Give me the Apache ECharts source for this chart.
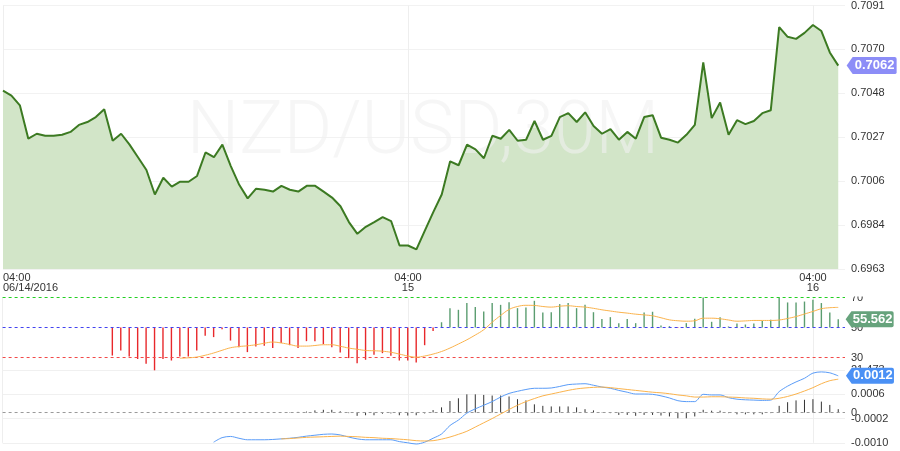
<!DOCTYPE html>
<html><head><meta charset="utf-8">
<script src="https://cdn.jsdelivr.net/npm/echarts@6/dist/echarts.min.js"></script>
<style>html,body{margin:0;padding:0;background:#fff}#c{width:900px;height:451px}</style>
</head><body><div id="c"></div>
<script>
// 30-minute bars, index 0 = 04:00 06/14/2016
const tickIndex = [0, 48, 96];
const tickLabels = ['04:00\n06/14/2016', '04:00\n15', '04:00\n16'];

const price = [0.70496,0.70472,0.70425,0.70263,0.70287,0.70277,0.70277,0.70282,0.70296,0.70330,
0.70344,0.70368,0.70406,0.70253,0.70287,0.70234,0.70173,0.70111,0.69992,0.70073,
0.70030,0.70054,0.70054,0.70082,0.70196,0.70173,0.70234,0.70130,0.70039,0.69973,
0.70020,0.70015,0.70006,0.70034,0.70015,0.70006,0.70034,0.70034,0.70006,0.69977,
0.69935,0.69858,0.69801,0.69835,0.69858,0.69882,0.69863,0.69744,0.69744,0.69725,
0.69816,0.69906,0.69992,0.70153,0.70134,0.70234,0.70211,0.70168,0.70277,0.70263,
0.70306,0.70253,0.70258,0.70349,0.70258,0.70277,0.70368,0.70387,0.70344,0.70391,
0.70325,0.70287,0.70310,0.70258,0.70296,0.70263,0.70368,0.70377,0.70268,0.70258,
0.70244,0.70282,0.70330,0.70634,0.70363,0.70439,0.70282,0.70353,0.70334,0.70349,
0.70387,0.70401,0.70805,0.70758,0.70748,0.70777,0.70815,0.70786,0.70682,0.70618];

const rsi = [null,null,null,null,null,null,null,null,null,null,
null,null,null,31.3,34.7,30.7,29,25.8,21.473,29,
28,30.7,30.7,34.7,44.5,43.6,48.9,41.3,36.9,33.6,
37.3,37.8,36.3,39.6,38.2,36.3,40.9,40.9,38.9,36.9,
33.3,29.6,26.2,28.5,31.8,32.9,31.1,28,28,26.7,
38.2,47.6,53.5,62.9,61.8,66.3,63.6,60.7,66.3,65.1,
66.9,62.9,63.4,67.8,60,60.2,65.6,66.3,62.9,65.1,
60.2,55.6,56.9,52.9,55.6,52.9,60,60.5,51.3,50.9,
49.6,52.9,55.8,70,53.8,56.9,50.7,52.7,52,52.7,
54.4,55.1,70,66.7,66.7,67.3,68.5,66.3,60,55.562];

const rsiMa = [null,null,null,null,null,null,null,null,null,null,
null,null,null,null,null,null,null,null,null,null,
null,29.5,29.8,30.3,31.5,33,34.8,36.5,37.3,37.8,
38.5,39.5,40.3,39.7,38.7,37.6,37.6,38,38.5,38.5,
37.5,36.3,35.5,34.7,34.5,34.2,33.5,32.3,31,30.2,
31,32.3,34,36.3,39,41.8,45,48.5,53.5,58,
62,64,64.8,64.7,64,63.6,64.2,64.5,64,63.6,
62.8,61.8,61,60.2,59.6,58.9,58.4,57.8,56.5,55.1,
54.5,54.2,54.5,56.2,56.2,55.8,55,54.2,54.4,54.7,
54.7,54.7,55,56,57.3,59,60.7,62.5,63.2,63.4];

const rsiLevels = [70, 50, 30];
const macdLevels = [0];

const macd = [null,null,null,null,null,null,null,null,null,null,
null,null,null,null,null,null,null,null,null,null,
null,null,null,null,null,-0.00098,-0.00083,-0.00079,-0.00085,-0.0009,
-0.0009,-0.0009,-0.00089,-0.00087,-0.00085,-0.00082,-0.00078,-0.00075,-0.00072,-0.00071,
-0.00074,-0.00081,-0.00087,-0.0009,-0.0009,-0.0009,-0.0009,-0.00096,-0.001,-0.00104,
-0.00098,-0.00085,-0.00071,-0.00043,-0.00025,-0.00002,0.00012,0.00024,0.00036,0.00051,
0.00063,0.0007,0.00076,0.0008,0.0008,0.00081,0.00086,0.00092,0.00094,0.00095,
0.0009,0.00084,0.0008,0.00073,0.00067,0.00061,0.00061,0.0006,0.00055,0.00048,
0.00039,0.00036,0.00036,0.0006,0.00058,0.00058,0.00049,0.00044,0.00042,0.00041,
0.0004,0.00041,0.00069,0.00087,0.00101,0.00113,0.0013,0.00134,0.00131,0.00121];

const signal = [null,null,null,null,null,null,null,null,null,null,
null,null,null,null,null,null,null,null,null,null,
null,null,null,null,null,null,null,null,null,null,
null,null,null,-0.00087,-0.00086,-0.00084,-0.00082,-0.00081,-0.0008,-0.00079,
-0.00078,-0.00079,-0.0008,-0.00082,-0.00083,-0.00085,-0.00086,-0.00088,-0.0009,-0.00093,
-0.00094,-0.00093,-0.00088,-0.00081,-0.00072,-0.00062,-0.00048,-0.00034,-0.0002,-0.00005,
0.0001,0.00024,0.00036,0.00046,0.00055,0.00061,0.00067,0.00073,0.00078,0.00081,
0.00083,0.00084,0.00082,0.00079,0.00076,0.00073,0.0007,0.00067,0.00065,0.00062,
0.00058,0.00055,0.00051,0.00051,0.00052,0.00052,0.00051,0.0005,0.00048,0.00047,
0.00045,0.00044,0.00047,0.00053,0.00061,0.00071,0.00082,0.00095,0.00105,0.0011];

const hist = [null,null,null,null,null,null,null,null,null,null,
null,null,null,null,null,null,null,null,null,null,
null,null,null,null,null,null,null,null,null,null,
null,null,null,0,0.00001,0.00002,0.00003,0.00007,0.00009,0.00009,
0.00004,-0.00002,-0.00011,-0.00009,-0.00009,-0.00004,-0.00003,-0.00009,-0.0001,-0.00009,
-0.00003,0.00008,0.00017,0.00038,0.00047,0.0006,0.0006,0.00058,0.00056,0.00056,
0.00053,0.00044,0.0004,0.00027,0.00022,0.0002,0.0002,0.0002,0.00017,0.00011,
0.00007,0.00001,-0.00002,-0.00008,-0.00008,-0.00011,-0.00008,-0.00008,-0.0001,-0.00013,
-0.00019,-0.00019,-0.00013,0.00009,0.00006,0.00006,-0.00002,-0.00006,-0.00006,-0.00006,
-0.00006,-0.00002,0.00022,0.00034,0.0004,0.00042,0.00044,0.00036,0.00025,0.00011];

const X_MAX = 99.8;
const pairs = arr => arr.map((v, i) => [i, v]).filter(p => p[1] !== null);
const last = price.length - 1;
const FONT = 'Liberation Sans';
const TAG = 'path://M0,9L6,0H48Q50,0,50,2V16Q50,18,48,18H6Z';

function tag(x, y, text, color, w, h, off) {
  return {
    symbol: TAG, symbolSize: [w, h], symbolOffset: [off, 0], silent: true,
    itemStyle: {color: color},
    label: {show: true, position: 'inside', offset: [3, 0], color: '#fff', fontWeight: 'bold',
            fontSize: 13, fontFamily: FONT, formatter: () => text},
    data: [{coord: [x, y]}]
  };
}

function levelLine(gi, value, color) {
  return {type: 'line', xAxisIndex: gi, yAxisIndex: gi, data: [[0, value], [X_MAX, value]],
    symbol: 'none', silent: true, z: 2, clip: false,
    lineStyle: {color: color, type: [3, 3], width: 1}};
}

const xBase = (gi, showLabel) => ({
  type: 'value', gridIndex: gi, min: 0, max: X_MAX, interval: 48,
  axisLine: {show: false}, axisTick: {show: false},
  splitLine: {show: true, showMaxLine: false, lineStyle: {color: '#eeeeee', width: 1}},
  axisLabel: showLabel ? {
    show: true, margin: 4, fontSize: 11, lineHeight: 10, color: '#333', fontFamily: FONT,
    alignMinLabel: 'left', showMaxLabel: false,
    formatter: v => { const k = tickIndex.indexOf(Math.round(v)); return (k >= 0 && Math.abs(v - tickIndex[k]) < 1e-6) ? tickLabels[k] : ''; }
  } : {show: false}
});

const yLabel = {fontSize: 11, color: '#333', fontFamily: FONT, margin: 6,
                verticalAlignMinLabel: 'middle', verticalAlignMaxLabel: 'middle'};

const option = {
  animation: false,
  backgroundColor: '#fff',
  grid: [
    {left: 2.6, right: 55, top: 0, height: 269},
    {left: 2.6, right: 55, top: 297.5, height: 72.8},
    {left: 2.6, right: 55, top: 370.1, height: 72.7}
  ],
  xAxis: [xBase(0, true), xBase(1, false), xBase(2, false)],
  yAxis: [
    {type: 'value', gridIndex: 0, position: 'right', min: 0.6963, max: 0.7091, interval: 0.0128 / 6,
     axisLine: {show: false}, axisTick: {show: false},
     splitLine: {show: true, lineStyle: {color: '#f2f2f2'}},
     axisLabel: Object.assign({formatter: v => v.toFixed(4)}, yLabel)},
    {type: 'value', gridIndex: 1, position: 'right', min: 21.473, max: 70,
     axisLine: {show: false}, axisTick: {show: false}, splitLine: {show: false},
     axisLabel: Object.assign({customValues: [21.473, 30, 50, 70],
       formatter: v => (Math.abs(v - 21.473) < 1e-6 ? '21.473' : String(Math.round(v)))}, yLabel)},
    {type: 'value', gridIndex: 2, position: 'right', min: -0.001, max: 0.0014, interval: 0.0008,
     axisLine: {show: false}, axisTick: {show: false},
     splitLine: {show: true, lineStyle: {color: '#f0f0f0'}},
     axisLabel: Object.assign({customValues: [-0.001, -0.0002, 0, 0.0006],
       formatter: v => (Math.abs(v) < 1e-12 ? '0' : v.toFixed(4))}, yLabel)}
  ],
  graphic: [
    {type: 'text', x: 423, y: 134, z: 2, silent: true,
     style: {text: 'NZD/USD,30M', fontSize: 74, fontWeight: 300, fontFamily: 'Roboto',
             fill: 'rgba(240,240,240,0.6)', align: 'center', verticalAlign: 'middle'}},
    {type: 'rect', z: 50, silent: true, shape: {x: 846, y: 283, width: 54, height: 13.5}, style: {fill: '#fff'}}
  ],
  series: [
    {type: 'line', xAxisIndex: 0, yAxisIndex: 0, data: pairs(price), symbol: 'none', z: 1,
     lineStyle: {width: 0}, areaStyle: {color: '#d2e5c8', opacity: 1, origin: 'start'}},
    {type: 'line', xAxisIndex: 0, yAxisIndex: 0, data: pairs(price), symbol: 'none', z: 3,
     lineStyle: {color: '#3c7a22', width: 2},
     markPoint: tag(last, price[last], price[last].toFixed(4), '#8c8df7', 50, 17, 33.4)},
    levelLine(1, rsiLevels[0], '#22d022'),
    levelLine(1, rsiLevels[1], '#4343f0'),
    levelLine(1, rsiLevels[2], '#f24a4a'),
    {type: 'custom', xAxisIndex: 1, yAxisIndex: 1, data: pairs(rsi), encode: {x: 0, y: 1}, z: 2,
     renderItem: (params, api) => {
       const i = api.value(0), v = api.value(1);
       const a = api.coord([i, 50]), b = api.coord([i, v]);
       return {type: 'line', shape: {x1: a[0], y1: a[1], x2: b[0], y2: b[1]},
               style: {stroke: v >= 50 ? '#5b9d70' : '#e8282b', lineWidth: 1.4}};
     }},
    {type: 'line', xAxisIndex: 1, yAxisIndex: 1, data: pairs(rsiMa), symbol: 'none', smooth: 0.4, z: 3,
     lineStyle: {color: '#fbb34c', width: 1},
     markPoint: tag(last, rsi[last], String(rsi[last]), '#66a37c', 48, 16, 31.4)},
    levelLine(2, macdLevels[0], '#9a9a9a'),
    {type: 'custom', xAxisIndex: 2, yAxisIndex: 2, data: pairs(hist), encode: {x: 0, y: 1}, z: 2,
     renderItem: (params, api) => {
       const i = api.value(0), v = api.value(1);
       const a = api.coord([i, 0]), b = api.coord([i, v]);
       return {type: 'line', shape: {x1: a[0], y1: a[1], x2: b[0], y2: b[1]},
               style: {stroke: '#333', lineWidth: 1}};
     }},
    {type: 'line', xAxisIndex: 2, yAxisIndex: 2, data: pairs(macd), symbol: 'none', smooth: 0.3, z: 3, clip: false,
     lineStyle: {color: '#5a9cf8', width: 1},
     markPoint: tag(last, macd[last], macd[last].toFixed(4), '#4a90f5', 48, 16, 31.7)},
    {type: 'line', xAxisIndex: 2, yAxisIndex: 2, data: pairs(signal), symbol: 'none', smooth: 0.3, z: 3,
     lineStyle: {color: '#fbb34c', width: 1}}
  ]
};
echarts.init(document.getElementById('c'), null, {renderer: 'canvas'}).setOption(option);
</script></body></html>
